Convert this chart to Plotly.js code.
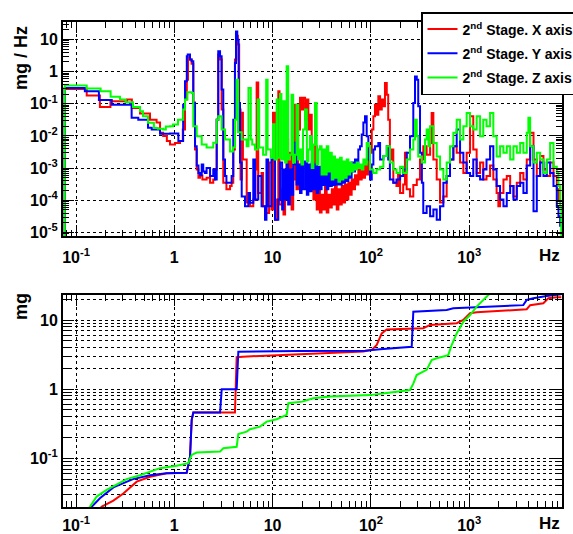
<!DOCTYPE html>
<html>
<head>
<meta charset="utf-8">
<script src="https://cdn.plot.ly/plotly-3.0.1.min.js"></script>
<style>html,body{margin:0;padding:0;background:#fff;}#chart{width:573px;height:534px;}</style>
</head>
<body>
<div id="chart"></div>
<script>
// ---------- DATA ----------
const seriesNames = ['2<sup>nd</sup> Stage. X axis', '2<sup>nd</sup> Stage. Y axis', '2<sup>nd</sup> Stage. Z axis'];
const seriesColors = ['#ff0000', '#0000ff', '#00ff00'];

// Spectral density (top panel), mg / Hz
const psdFreqX = [0.0767,0.0767,0.1285,0.175,0.224,0.33,0.37,0.448,0.566,0.66,0.716,0.77,0.84,0.904,1.016,1.143,1.22,1.285,1.34,1.378,1.445,1.50,1.56,1.625,1.69,1.76,1.826,1.93,2.13,2.31,2.49,2.59,2.70,2.80,2.92,3.03,3.15,3.39,3.69,3.83,3.98,4.14,4.28,4.43,4.57,4.72,4.85,4.99,5.45,5.89,6.36,6.7,6.88,7.14,7.72,8.0,8.66,9.2,9.74,10.1,10.58,11.1,11.43,11.76,12.5,12.9,13.4,13.9,14.4,15.0,15.6,16.2,16.9,17.5,18.2,19.0,19.7,20.4,21.4,22.3,23.1,24.0,25.0,26.0,27.0,28.1,29.2,30.3,31.5,32.8,34.1,35.5,36.9,38.4,40.0,41.5,43.1,44.9,46.7,48.5,50.5,52.4,54.5,56.7,59.0,61.3,63.7,66.3,68.9,71.6,74.5,77.5,80.6,83.8,87.1,90.6,94.2,97.9,102,106,110,114,119,124,129,134,139,145,150,156,162,169,182,189,198,213,222,231,250,270,293,316,341,369,400,415,432,467,505,546,590,638,690,746,807,872,942,1020,1100,1190,1290,1390,1500,1630,1760,1900,1980,2060,2230,2410,2610,2820,3050,3300,3560,3850,4170,4510,4870,5270,5690,6150,6660,7200,7780,8090,8420];
const psdX = [1e-6,0.29,0.18,0.08,0.12,0.135,0.074,0.05,0.032,0.026,0.0125,0.010,0.007,0.0054,0.006,0.007,0.016,0.135,0.56,2.7,2.36,1.77,0.11,0.0038,0.00091,0.0005,0.00059,0.00044,0.0005,0.00035,0.00044,0.00091,0.032,3.4,2.36,0.066,0.00035,0.00022,0.00028,0.00035,0.0038,2.4,13,6.9,0.066,0.00044,0.053,0.00185,8.5e-5,6.5e-5,0.000106,0.0009,0.46,0.00017,0.0007,6.5e-5,4e-5,0.0015,5.2e-5,0.053,2.5e-5,0.000106,0.245,7.4e-5,0.00022,3.6e-5,0.00031,0.0077,0.000106,0.003,5.2e-5,0.00044,0.094,0.00022,0.016,0.153,0.066,0.153,0.032,0.135,0.016,0.046,0.0038,0.000106,0.0048,5.2e-5,0.00022,4.2e-5,0.00015,5.2e-5,0.0003,4.2e-5,0.00015,6e-5,0.00022,7.4e-5,0.0003,5.2e-5,0.00022,7.4e-5,0.00028,8.5e-5,0.00031,0.000106,0.00035,0.00015,0.00044,0.00022,0.0006,0.00031,0.0009,0.00044,0.001,0.0005,0.0013,0.00063,0.00185,0.003,0.016,0.041,0.094,0.046,0.17,0.066,0.135,0.084,0.44,0.19,0.032,0.00185,0.0038,0.00035,0.00028,0.00063,0.00017,0.00031,0.003,0.00022,0.00013,0.0003,0.00044,0.00185,0.0048,0.0026,0.006,0.052,0.00185,0.00044,8.5e-5,0.00013,0.00057,0.00185,0.0048,0.003,0.0015,0.0007,0.003,0.041,0.0038,0.0007,0.0015,0.00044,0.00057,0.0012,0.00044,0.00017,6.5e-5,0.00017,0.00044,0.00057,0.00028,0.00013,0.00035,0.0007,0.00044,0.00185,0.0125,0.00185,0.00057,0.0024,0.0009,0.00057,0.0015,0.00057,0.00022,0.000106,0.00031];

const psdFreqY = [0.0767,0.0767,0.123,0.171,0.231,0.354,0.368,0.43,0.54,0.589,0.716,0.904,1.10,1.23,1.285,1.34,1.37,1.445,1.50,1.56,1.625,1.69,1.76,1.826,1.9,1.97,2.05,2.13,2.31,2.49,2.59,2.70,2.80,2.92,3.03,3.15,3.28,3.39,3.69,3.83,3.98,4.14,4.24,4.37,4.51,4.66,4.85,5.24,5.66,5.89,6.36,6.62,7.14,7.72,8.37,8.66,9.0,9.74,10.58,11.43,11.9,12.5,12.9,13.4,13.9,14.4,15.0,15.6,16.2,16.9,17.5,18.2,19.0,19.7,20.4,21.4,22.3,23.1,24.0,25.0,26.0,27.0,28.1,29.2,30.3,31.5,32.8,34.1,35.5,36.9,38.4,40.0,41.5,43.1,44.9,46.7,48.5,50.5,52.4,54.5,56.7,59.0,61.3,63.7,66.3,68.9,71.6,74.5,77.5,80.6,83.8,87.1,90.6,94.2,97.9,102,106,110,119,124,134,145,150,156,169,182,198,213,231,250,270,281,293,303,316,330,341,369,400,432,467,505,546,590,638,690,746,807,872,942,1020,1100,1190,1290,1390,1500,1630,1760,1900,2060,2230,2410,2610,2820,3050,3300,3560,3850,4170,4510,4870,5270,5690,6150,6660,7200,7780,8090,8420];
const psdY = [1e-6,0.31,0.245,0.13,0.094,0.106,0.037,0.032,0.018,0.016,0.0118,0.012,0.007,0.094,0.5,3.0,3.4,2.36,2.1,0.106,0.0048,0.0012,0.0007,0.0006,0.0013,0.00078,0.0007,0.001,0.00057,0.0009,0.00044,0.032,4.3,3.0,0.28,0.00185,0.00057,0.00035,0.00035,0.00057,0.032,1.86,17.8,9.8,0.106,0.0015,0.00013,6.5e-5,0.00017,8.4e-5,0.00185,0.000106,0.00057,6.5e-5,2.5e-5,0.00185,6.5e-5,0.00185,2.5e-5,0.000106,0.0015,5.2e-5,0.0009,0.000106,0.0013,7.4e-5,0.0009,0.00015,0.0013,0.0062,0.00031,0.0013,0.00017,0.00185,0.00022,0.0016,0.00015,0.0013,0.00019,0.0015,0.00022,0.0013,0.00017,0.0011,0.00022,0.001,0.0003,0.0009,0.00022,0.001,0.00028,0.0009,0.0003,0.001,0.00031,0.0011,0.00031,0.0012,0.00035,0.0013,0.0004,0.0013,0.0005,0.0015,0.00078,0.00185,0.0013,0.0038,0.0048,0.011,0.026,0.041,0.0098,0.00185,0.00044,0.0013,0.0038,0.0048,0.006,0.00185,0.0024,0.0048,0.00185,0.00044,0.00035,0.00044,0.00057,0.0009,0.003,0.0098,0.106,0.71,0.56,0.084,0.003,0.00035,4e-5,6.5e-5,3.2e-5,5.2e-5,2.5e-5,6.5e-5,0.00035,0.00057,0.00185,0.0048,0.016,0.003,0.0015,0.0007,0.00057,0.00185,0.00057,0.00044,0.0009,0.00185,0.0048,0.0009,0.00028,0.000106,6.5e-5,0.00017,0.00028,0.000106,0.00028,0.00035,0.00017,0.0012,0.0048,4.6e-5,0.00057,0.0015,0.00057,0.0015,0.0007,0.00028,6.5e-5,3.2e-5,1.5e-5];

const psdFreqZ = [0.0767,0.0767,0.1285,0.178,0.225,0.28,0.32,0.38,0.448,0.48,0.54,0.62,0.68,0.77,0.82,0.904,0.97,1.09,1.23,1.285,1.36,1.51,1.56,1.69,1.9,2.13,2.49,2.70,2.80,3.03,3.28,3.69,3.95,4.14,4.30,4.45,4.85,5.45,5.68,6.0,6.2,6.62,7.05,7.3,8.0,8.6,8.9,9.6,10.1,10.45,11.0,11.3,11.9,12.3,12.9,13.4,13.9,14.4,15.0,15.6,16.2,16.9,17.5,18.2,19.0,19.7,20.4,21.4,22.3,23.1,24.0,25.0,26.0,27.0,28.1,29.2,30.3,31.5,32.8,34.1,35.5,36.9,38.4,40.0,41.5,43.1,44.9,46.7,48.5,50.5,52.4,54.5,56.7,59.0,61.3,63.7,66.3,68.9,71.6,74.5,77.5,80.6,83.8,87.1,90.6,94.2,97.9,106,114,124,134,145,156,169,182,198,213,231,250,270,281,293,303,330,355,369,385,400,432,467,505,546,590,638,690,746,807,872,942,1020,1100,1190,1290,1390,1500,1630,1760,1900,2060,2230,2410,2610,2820,3050,3300,3560,3850,4000,4170,4510,4870,5270,5690,6150,6660,7200,7780,8090,8420,8640];
const psdZ = [1e-6,0.37,0.296,0.245,0.164,0.135,0.111,0.080,0.059,0.041,0.0255,0.0178,0.0166,0.0159,0.0195,0.02,0.0225,0.032,0.066,0.135,0.228,0.218,0.02,0.0098,0.0054,0.0044,0.0062,0.032,0.041,0.016,0.0077,0.0033,0.0044,0.032,0.56,0.013,0.0077,0.0048,0.31,0.0077,0.0054,0.0038,0.135,0.0044,0.0026,0.56,0.0038,0.0021,0.023,0.00185,0.135,0.0021,0.2,0.00185,0.12,0.0015,1.46,0.00185,0.0026,0.19,0.0015,0.0026,0.094,0.00185,0.0038,0.0013,0.016,0.066,0.0016,0.0038,0.0098,0.001,0.0054,0.106,0.0013,0.0038,0.0048,0.00063,0.0038,0.00063,0.0048,0.00078,0.003,0.00044,0.0023,0.0005,0.00185,0.00038,0.0021,0.00044,0.0016,0.0005,0.00185,0.00063,0.0015,0.00078,0.0013,0.0009,0.0015,0.001,0.0013,0.0009,0.00185,0.0013,0.006,0.0048,0.0009,0.0007,0.0009,0.0011,0.0024,0.0048,0.0015,0.0009,0.0007,0.0011,0.0007,0.00185,0.0038,0.0077,0.032,0.0098,0.0023,0.0015,0.0077,0.016,0.0048,0.02,0.006,0.0023,0.0009,0.00044,0.0015,0.0048,0.0125,0.032,0.0077,0.02,0.052,0.02,0.016,0.041,0.0098,0.032,0.02,0.052,0.0098,0.0023,0.0048,0.003,0.0048,0.00185,0.0048,0.003,0.006,0.003,0.0125,0.037,0.0048,0.0015,0.003,0.00185,0.0007,0.00185,0.006,0.0011,0.0007,0.00028,6.5e-5,1e-6];

// Cumulative RMS (bottom panel), mg
const rmsFreqX = [0.17,0.183,0.24,0.303,0.4145,0.566,0.837,1.337,1.445,1.503,1.561,4.14,4.31,5.0,19.0,83.7,101.9,114.6,128.8,144.8,341,400,746,871,1020,1191,3846,4170,5675,6380,7763,8640];
const rmsX = [0.018,0.02,0.0244,0.031,0.046,0.054,0.061,0.062,0.106,0.36,0.46,0.46,2.9,2.95,3.2,3.5,3.7,4.35,6.4,7.3,7.6,8.5,9.0,10.0,12.5,12.9,14.3,16.4,17.5,20.6,21.3,21.3];
const rmsFreqY = [0.135,0.1445,0.175,0.24,0.38,0.566,0.837,1.337,1.445,1.503,1.561,2.92,3.035,4.31,4.48,19.0,87.1,124,260,270,590,689,3550,3846,4487,6140,7763,8640];
const rmsY = [0.018,0.02,0.0265,0.038,0.050,0.057,0.061,0.062,0.106,0.36,0.46,0.46,1.0,1.0,3.48,3.57,3.6,3.77,4.1,13.2,14,14.8,16.4,19.5,20.6,22.2,23,23.5];
const rmsFreqZ = [0.13,0.139,0.1624,0.205,0.328,0.448,0.716,1.058,1.388,1.503,1.69,2.92,3.15,4.31,4.48,5.45,5.89,7.44,8.71,11.0,13.9,14.45,20.0,25.9,38.4,97.9,144.8,250,270,292,369,415,467,612,663,746,871,1020,1191,1391,1630,1800];
const rmsZ = [0.018,0.02,0.028,0.035,0.050,0.057,0.072,0.078,0.085,0.112,0.121,0.125,0.14,0.147,0.225,0.243,0.263,0.287,0.339,0.367,0.424,0.625,0.66,0.74,0.78,0.82,0.88,0.97,1.2,1.6,1.9,2.64,2.8,3.1,4.35,6.4,9.4,11.8,15.6,19.5,24,28];

// Tick labels
const xTickVals = [0.1, 1, 10, 100, 1000];
const xTickText = ['10<sup>-1</sup>', '1', '10', '10<sup>2</sup>', '10<sup>3</sup>'];
const yTopTickVals = [1e-5, 1e-4, 1e-3, 1e-2, 1e-1, 1, 10];
const yTopTickText = ['10<sup>-5</sup>', '10<sup>-4</sup>', '10<sup>-3</sup>', '10<sup>-2</sup>', '10<sup>-1</sup>', '1', '10'];
const yBotTickVals = [0.1, 1, 10];
const yBotTickText = ['10<sup>-1</sup>', '1', '10'];

// ---------- LAYOUT HELPERS ----------
const W = 573, H = 534, ML = 63, MR = 11, MT = 22, MB = 27;
const PW = W - ML - MR, PH = H - MT - MB;
const px2x = p => (p - ML) / PW;
const px2y = p => (H - MB - p) / PH;
const FONT = 'Liberation Sans, Arial, Helvetica, sans-serif';

function minorLog(lo, hi) {
  const v = [];
  for (let e = lo; e <= hi; e++) for (let m = 2; m <= 9; m++) v.push(m * Math.pow(10, e));
  return v;
}

function axis(extra, minorGrid, minorVals) {
  return Object.assign({
    type: 'log', showline: true, linecolor: '#000', linewidth: 2, mirror: 'allticks',
    ticks: 'inside', ticklen: 11, tickwidth: 1, tickcolor: '#000',
    showgrid: true, gridcolor: '#000', gridwidth: 1, griddash: 'dot',
    zeroline: false, tickmode: 'array',
    tickfont: {family: FONT, size: 16, color: '#000', weight: 'bold'},
    minor: {ticks: 'inside', ticklen: 6, tickwidth: 1, tickcolor: '#000',
            tickmode: 'array', tickvals: minorVals,
            showgrid: minorGrid, gridcolor: '#000', gridwidth: 1, griddash: 'dot'}
  }, extra);
}

const xRange = [-1.1323, 3.944];
const topDomain = [px2y(236), 1];
const botDomain = [0, px2y(295)];

const traces = [];
const psdF = [psdFreqX, psdFreqY, psdFreqZ], psdV = [psdX, psdY, psdZ];
const rmsF = [rmsFreqX, rmsFreqY, rmsFreqZ], rmsV = [rmsX, rmsY, rmsZ];
const groups = ['gx', 'gy', 'gz'];
for (let i = 0; i < 3; i++) {
  traces.push({x: psdF[i], y: psdV[i], xaxis: 'x', yaxis: 'y', type: 'scatter', mode: 'lines',
    name: seriesNames[i], legendgroup: groups[i], line: {color: seriesColors[i], width: 2, shape: 'hv'}});
}
for (let i = 0; i < 3; i++) {
  traces.push({x: rmsF[i], y: rmsV[i], xaxis: 'x2', yaxis: 'y2', type: 'scatter', mode: 'lines',
    name: seriesNames[i], legendgroup: groups[i], showlegend: false, line: {color: seriesColors[i], width: 2}});
}

const layout = {
  width: W, height: H,
  margin: {l: ML, r: MR, t: MT, b: MB, autoexpand: false},
  paper_bgcolor: '#fff', plot_bgcolor: '#fff',
  font: {family: FONT, color: '#000'},
  showlegend: true,
  xaxis: axis({anchor: 'y', range: xRange, tickvals: xTickVals, ticktext: xTickText, ticklabelstandoff: 6}, false, minorLog(-2, 3)),
  yaxis: axis({anchor: 'x', domain: topDomain, range: [-5.11, 1.542], tickvals: yTopTickVals, ticktext: yTopTickText}, false, minorLog(-6, 1)),
  xaxis2: axis({anchor: 'y2', range: xRange, tickvals: xTickVals, ticktext: xTickText, ticklabelstandoff: 3}, false, minorLog(-2, 3)),
  yaxis2: axis({anchor: 'x2', domain: botDomain, range: [-1.704, 1.3615], tickvals: yBotTickVals, ticktext: yBotTickText}, true, minorLog(-2, 1)),
  legend: {
    x: px2x(421), y: px2y(12), xanchor: 'left', yanchor: 'top',
    bgcolor: '#fff', bordercolor: '#000', borderwidth: 1.5, tracegroupgap: 3,
    font: {family: FONT, size: 14, color: '#000', weight: 'bold'}
  },
  shapes: [
    {type: 'rect', xref: 'paper', yref: 'paper', x0: px2x(424), x1: px2x(590), y0: px2y(91), y1: px2y(15),
     fillcolor: '#000', line: {width: 0}, layer: 'above'}
  ],
  annotations: [
    {text: 'mg / Hz', xref: 'paper', yref: 'paper', x: px2x(21), y: px2y(58), textangle: -90,
     showarrow: false, xanchor: 'center', yanchor: 'middle', font: {family: FONT, size: 18, weight: 'bold'}},
    {text: 'mg', xref: 'paper', yref: 'paper', x: px2x(21), y: px2y(307), textangle: -90,
     showarrow: false, xanchor: 'center', yanchor: 'middle', font: {family: FONT, size: 18, weight: 'bold'}},
    {text: 'Hz', xref: 'paper', yref: 'paper', x: px2x(549), y: px2y(256),
     showarrow: false, xanchor: 'center', yanchor: 'middle', font: {family: FONT, size: 17, weight: 'bold'}},
    {text: 'Hz', xref: 'paper', yref: 'paper', x: px2x(549), y: px2y(523),
     showarrow: false, xanchor: 'center', yanchor: 'middle', font: {family: FONT, size: 17, weight: 'bold'}}
  ]
};

Plotly.newPlot('chart', traces, layout, {displayModeBar: false, staticPlot: true});
</script>
</body>
</html>
